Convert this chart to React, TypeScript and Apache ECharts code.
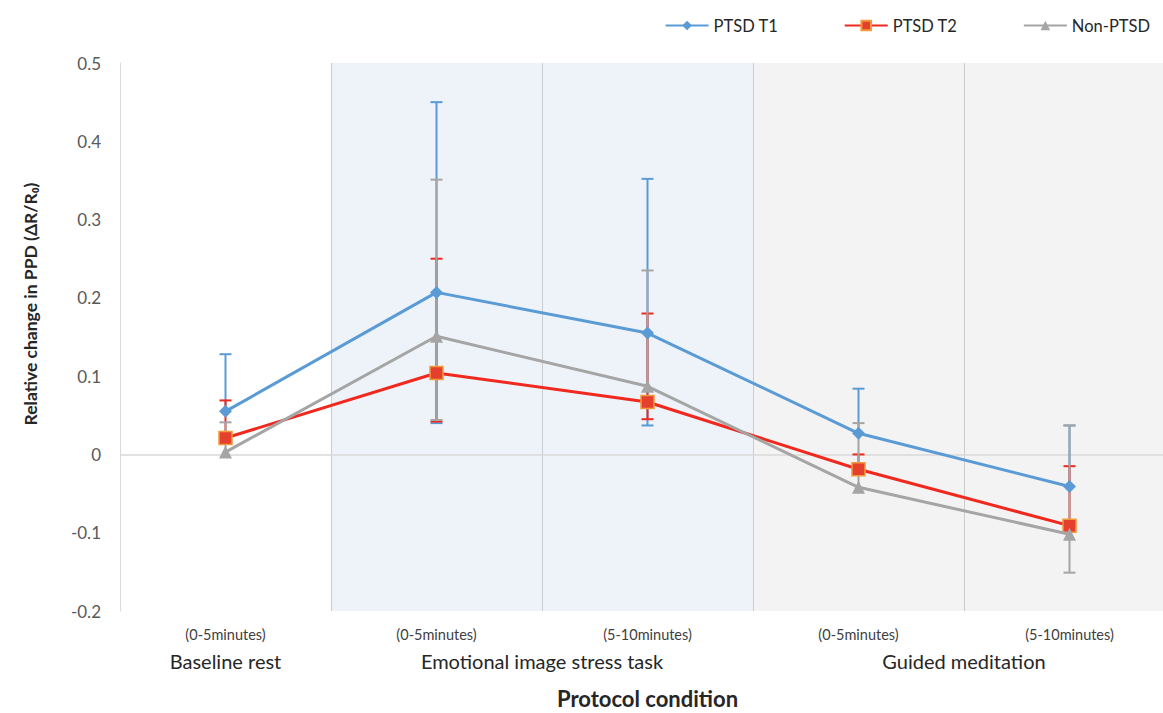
import React, { useEffect, useRef } from "react";
import * as echarts from "echarts";

const categories = ["(0-5minutes)", "(0-5minutes)", "(5-10minutes)", "(0-5minutes)", "(5-10minutes)"];
const groupLabels = ["Baseline rest", "Emotional image stress task", "Guided meditation"];
const groupSpans = [[0, 0], [1, 2], [3, 4]];
const yTicks = { min: -0.2, max: 0.5, interval: 0.1 };

const ptsdT1 = [0.055, 0.207, 0.155, 0.027, -0.041];
const ptsdT1Upper = [0.128, 0.450, 0.352, 0.084, 0.037];
const ptsdT1Lower = [0.055, 0.040, 0.037, 0.027, -0.041];

const ptsdT2 = [0.021, 0.104, 0.067, -0.019, -0.091];
const ptsdT2Upper = [0.069, 0.250, 0.180, 0.0, -0.015];
const ptsdT2Lower = [0.021, 0.042, 0.045, -0.019, -0.091];

const nonPtsd = [0.003, 0.151, 0.087, -0.042, -0.102];
const nonPtsdUpper = [0.041, 0.351, 0.235, 0.040, 0.037];
const nonPtsdLower = [0.003, 0.044, 0.087, -0.042, -0.151];

const FONT = "Lato";
const BLUE = "#5B9BD5";
const RED = "#F0281E";
const GRAY = "#A5A5A5";

function errorSeries(name: string, vals: number[], lo: number[], hi: number[], color: string) {
  return {
    name,
    type: "custom",
    silent: true,
    z: 1,
    data: vals.map((v, i) => [i, lo[i], hi[i], v]),
    encode: { x: 0, y: [1, 2] },
    renderItem: (params: any, api: any) => {
      const i = api.value(0);
      const lo = api.value(1);
      const hi = api.value(2);
      const v = api.value(3);
      const pHi = api.coord([i, hi]);
      const pLo = api.coord([i, lo]);
      const cap = 6;
      const children: any[] = [
        { type: "line", shape: { x1: pHi[0], y1: pHi[1], x2: pLo[0], y2: pLo[1] }, style: { stroke: color, lineWidth: 2 } },
      ];
      if (hi !== v) children.push({ type: "line", shape: { x1: pHi[0] - cap, y1: pHi[1], x2: pHi[0] + cap, y2: pHi[1] }, style: { stroke: color, lineWidth: 2 } });
      if (lo !== v) children.push({ type: "line", shape: { x1: pLo[0] - cap, y1: pLo[1], x2: pLo[0] + cap, y2: pLo[1] }, style: { stroke: color, lineWidth: 2 } });
      return { type: "group", children };
    },
  };
}

export default function App() {
  const ref = useRef<HTMLDivElement>(null);
  useEffect(() => {
    if (!ref.current) return;
    const chart = echarts.init(ref.current, null, { renderer: "svg" });
    chart.setOption({
      animation: false,
      textStyle: { fontFamily: FONT },
      legend: {
        data: ["PTSD T1", "PTSD T2", "Non-PTSD"],
        top: 12,
        right: 8,
        itemWidth: 43,
        itemHeight: 12,
        itemGap: 65.5,
        textStyle: { fontFamily: FONT, fontSize: 16.5, color: "#262626" },
      },
      grid: { left: 120, top: 63, width: 1055, height: 548, containLabel: false, outerBoundsMode: "none" },
      xAxis: {
        type: "category",
        data: categories,
        boundaryGap: true,
        axisLine: { show: false },
        axisTick: { show: false },
        axisLabel: { fontFamily: FONT, fontSize: 14.5, color: "#404040", margin: 16 },
        splitLine: { show: true, lineStyle: { color: "#C9CDD2", width: 1 } },
        splitArea: {
          show: true,
          areaStyle: { color: ["rgba(255,255,255,0)", "#EEF3FA", "#EEF3FA", "#F3F3F3", "#F3F3F3"] },
        },
        name: "Protocol condition",
        nameLocation: "middle",
        nameGap: 76,
        nameTextStyle: { fontFamily: FONT, fontSize: 22, fontWeight: "bold", color: "#262626" },
      },
      yAxis: {
        type: "value",
        min: yTicks.min,
        max: yTicks.max,
        interval: yTicks.interval,
        axisLine: { show: true, lineStyle: { color: "#D9D9D9" } },
        axisTick: { show: false },
        splitLine: { show: false },
        axisLabel: { fontFamily: FONT, fontSize: 17, color: "#595959", margin: 19 },
      },
      series: [
        errorSeries("PTSD T1 error", ptsdT1, ptsdT1Lower, ptsdT1Upper, BLUE),
        errorSeries("PTSD T2 error", ptsdT2, ptsdT2Lower, ptsdT2Upper, RED),
        errorSeries("Non-PTSD error", nonPtsd, nonPtsdLower, nonPtsdUpper, GRAY),
        {
          name: "PTSD T1",
          type: "line",
          z: 3,
          data: ptsdT1,
          symbol: "diamond",
          symbolSize: 13,
          lineStyle: { color: BLUE, width: 3 },
          itemStyle: { color: BLUE },
          markLine: {
            silent: true,
            symbol: "none",
            label: { show: false },
            lineStyle: { color: "#D9D9D9", type: "solid", width: 1.5 },
            data: [{ yAxis: 0 }],
            z: 0,
          },
        },
        {
          name: "PTSD T2",
          type: "line",
          z: 4,
          data: ptsdT2,
          symbol: "rect",
          symbolSize: 13,
          lineStyle: { color: RED, width: 3 },
          itemStyle: { color: "#E53F2E", borderColor: "#F29B3A", borderWidth: 1.5 },
        },
        {
          name: "Non-PTSD",
          type: "line",
          z: 5,
          data: nonPtsd,
          symbol: "triangle",
          symbolSize: 13,
          lineStyle: { color: GRAY, width: 3 },
          itemStyle: { color: GRAY },
        },
      ],
    });

    const yPix = 661;
    const graphics: any[] = groupLabels.map((g, k) => {
      const a = chart.convertToPixel({ xAxisIndex: 0 }, groupSpans[k][0]) as number;
      const b = chart.convertToPixel({ xAxisIndex: 0 }, groupSpans[k][1]) as number;
      return {
        type: "text",
        x: (a + b) / 2,
        y: yPix,
        style: { text: g, fontFamily: FONT, fontSize: 20, fill: "#262626", textAlign: "center", textVerticalAlign: "middle" },
      };
    });
    graphics.push({
      type: "text",
      x: 30,
      y: 304,
      rotation: Math.PI / 2,
      style: {
        text: "Relative change in PPD (ΔR/R₀)",
        fontFamily: FONT,
        fontSize: 17.5,
        fontWeight: "bold",
        fill: "#262626",
        textAlign: "center",
        textVerticalAlign: "middle",
      },
    });
    chart.setOption({ graphic: graphics });

    return () => chart.dispose();
  }, []);
  return <div ref={ref} style={{ width: 1163, height: 713, position: "absolute", left: 0, top: 0 }} />;
}
